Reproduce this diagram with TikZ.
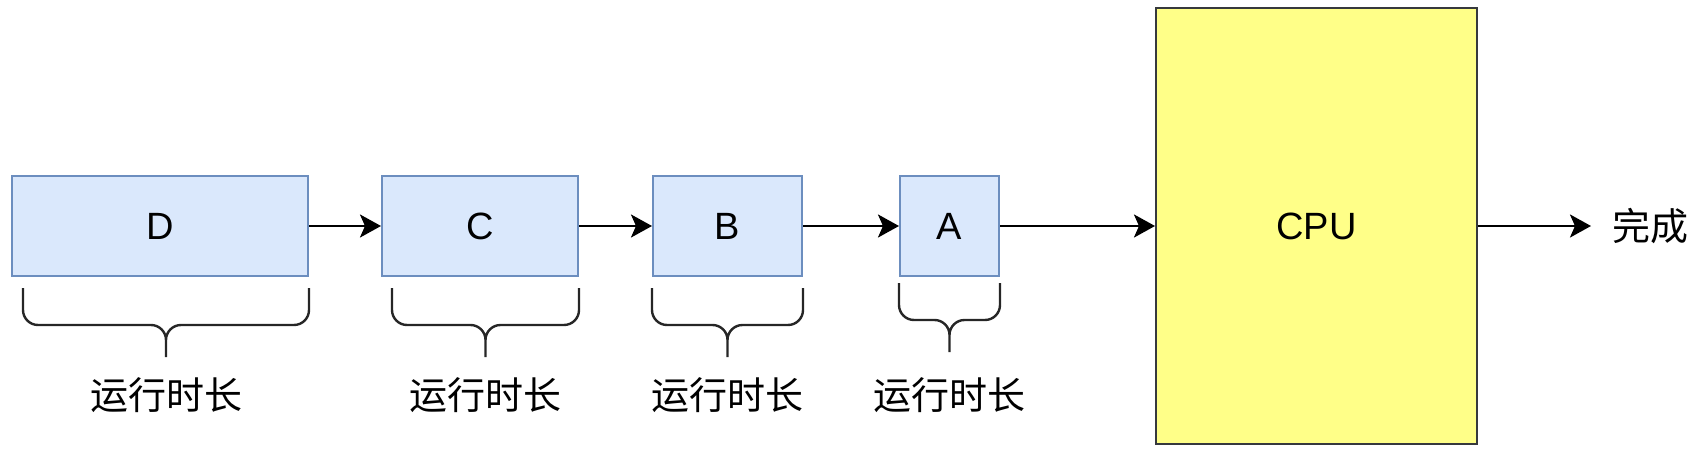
\documentclass[tikz,border=0pt]{standalone}
\usepackage{fontspec}
\setmainfont{Liberation Sans}
\newfontfamily\cjk{Noto Sans CJK SC}
\usetikzlibrary{arrows.meta, positioning, calc}

\definecolor{jobfill}{HTML}{DAE8FC}
\definecolor{jobline}{HTML}{6C8EBF}
\definecolor{cpufill}{HTML}{FFFF88}
\definecolor{cpuline}{HTML}{36393D}

\tikzset{
  job/.style={draw=jobline, fill=jobfill, line width=2pt, minimum height=100pt,
    inner sep=0pt, font=\fontsize{38}{44}\selectfont},
  cpu/.style={draw=cpuline, fill=cpufill, line width=2pt, inner sep=0pt,
    font=\fontsize{38}{44}\selectfont},
  flow/.style={line width=2.6pt, -{Stealth[length=21pt, width=23pt, inset=5pt]}},
  brace/.style={line width=2.4pt, color=black!85, rounded corners=15pt},
  note/.style={inner sep=0pt, font=\cjk\fontsize{38}{44}\selectfont}
}

\begin{document}
\begin{tikzpicture}[x=1pt, y=1pt]
  \useasboundingbox (0,0) rectangle (1707,451);
  % queue of jobs
  \node[job, minimum width=296pt] (D) at (160,225) {D};
  \node[job, minimum width=196pt] (C) at (480,225) {C};
  \node[job, minimum width=149pt] (B) at (727.5,225) {B};
  \node[job, minimum width=99pt] (A) at (949.5,225) {A};
  \node[cpu, minimum width=321pt, minimum height=436pt] (cpu) at (1316.5,225) {CPU};
  \node[note, anchor=west, right=134pt of cpu] (done) {完成};

  \draw[flow] (D) -- (C);
  \draw[flow] (C) -- (B);
  \draw[flow] (B) -- (A);
  \draw[flow] (A) -- (cpu);
  \draw[flow, shorten >=21pt] (cpu) -- (done);

  % braces under the jobs
  \foreach \job/\gap/\drop in {D/12pt/11pt, C/11pt/11pt, B/0pt/11pt, A/0pt/6pt}
    \draw[brace] let \p1=($(\job.south west)+(\gap,-\drop)$),
                     \p2=($(\job.south east)+(0,-\drop)$) in
      (\x1,\y1) -- (\x1,\y1-37pt) -- ({(\x1+\x2)/2},\y1-37pt) -- ({(\x1+\x2)/2},\y1-69pt)
      (\x2,\y2) -- (\x2,\y2-37pt) -- ({(\x1+\x2)/2},\y2-37pt) -- ({(\x1+\x2)/2},\y2-69pt)
      node[note, color=black] (\job-time) at ({(\x1+\x2)/2},\y1+\drop-118pt) {运行时长};
\end{tikzpicture}
\end{document}
